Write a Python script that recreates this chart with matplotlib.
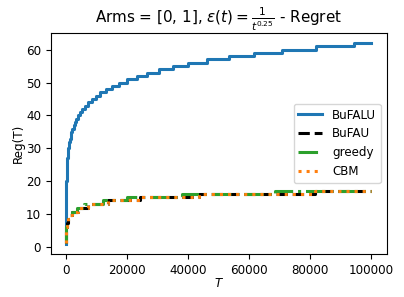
import numpy as np
import matplotlib
matplotlib.use('Agg')
import matplotlib.pyplot as plt

# step change points (T) and Reg(T) level after each change
bufalu_t = [1, 3, 15, 50, 150, 350, 400, 500, 600, 700, 800, 950, 1100, 1250, 1500, 1800,
            2100, 2500, 2900, 3300, 3800, 4500, 5300, 6200, 7200, 8400, 9700, 11200, 13000,
            15000, 17400, 19900, 23200, 26400, 30300, 35200, 40100, 46200, 53500, 61500,
            70900, 81900, 94400, 100000]
bufalu_r = [1, 5, 10, 15, 20, 25, 26, 27, 28, 29, 30, 31, 32, 33, 34, 35,
            36, 37, 38, 39, 40, 41, 42, 43, 44, 45, 46, 47, 48,
            49, 50, 51, 52, 53, 54, 55, 56, 57, 58, 59,
            60, 61, 62, 62]

bufau_t = [1, 20, 100, 300, 700, 1200, 2000, 3800, 7300, 13900, 24200, 43500, 81500, 100000]
bufau_r = [1.3, 4, 6, 7.5, 8.5, 9.7, 10.8, 12.0, 13.1, 14.2, 15.3, 16.2, 17.1, 17.1]

greedy_t = [1, 20, 100, 300, 700, 1200, 2000, 3500, 5900, 12000, 19900, 38000, 68400, 100000]
greedy_r = [1.3, 4, 6, 7.5, 8.5, 9.7, 10.8, 12.0, 13.1, 14.2, 15.3, 16.2, 17.1, 17.1]

cbm_t = [1, 20, 100, 300, 700, 1200, 2000, 3800, 7300, 13900, 24200, 43500, 81500, 100000]
cbm_r = [1.3, 4, 6, 7.5, 8.5, 9.7, 10.8, 12.0, 13.1, 14.2, 15.3, 16.2, 17.1, 17.1]

plt.rcParams['font.size'] = 8.6

fig = plt.figure(figsize=(4.04, 2.97), dpi=100)
ax = fig.add_axes([0.1255, 0.1448, 0.8315, 0.7442])

ax.plot(bufalu_t, bufalu_r, color='C0', lw=2.2, drawstyle='steps-post', label='BuFALU')
ax.plot(bufau_t, bufau_r, color='black', lw=2.2, ls='--', drawstyle='steps-post', label='BuFAU')
ax.plot(greedy_t, greedy_r, color='C2', lw=2.2, ls='-.', drawstyle='steps-post', label='greedy')
ax.plot(cbm_t, cbm_r, color='C1', lw=2.2, ls=':', drawstyle='steps-post', label='CBM')

ax.set_title(r'Arms = [0, 1], $\epsilon(t) = \frac{1}{t^{0.25}}$ - Regret', fontsize=10.9)
ax.set_xlabel('$T$', labelpad=0)
ax.set_ylabel('Reg(T)', labelpad=1)
ax.legend(loc='center right')

fig.savefig('out.png', dpi=100)
